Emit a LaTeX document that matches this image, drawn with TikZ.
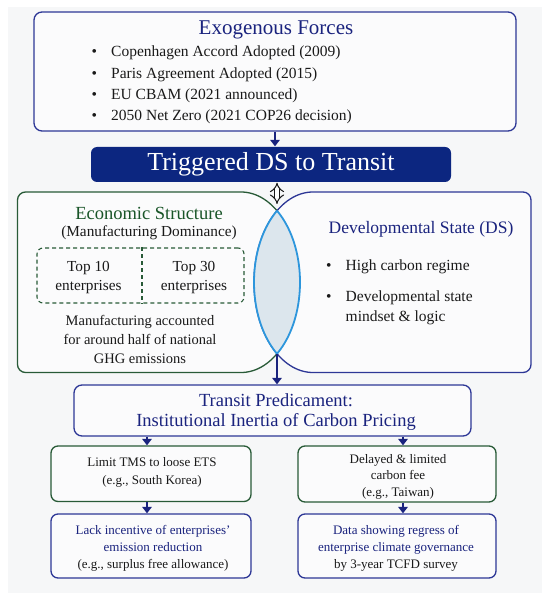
\documentclass[tikz,border=0pt]{standalone}
\usepackage{fontspec}
\setmainfont{Liberation Serif}
\usetikzlibrary{arrows.meta}
\definecolor{navy}{RGB}{26,35,126}
\definecolor{trigblue}{RGB}{12,38,128}
\definecolor{bordblue}{RGB}{45,55,150}
\definecolor{bordgreen}{RGB}{40,90,55}
\definecolor{titlegreen}{RGB}{25,85,40}
\definecolor{lensfill}{RGB}{220,230,237}
\definecolor{lensline}{RGB}{45,150,220}
\definecolor{bgc}{RGB}{246,247,248}
\definecolor{boxfill}{RGB}{251,251,252}
\definecolor{ink}{RGB}{25,25,25}
\begin{document}
\begin{tikzpicture}[x=1pt,y=1pt,
  box/.style={draw, rounded corners=8pt, line width=1.3pt, fill=boxfill, inner sep=0pt},
  bluebox/.style={box, draw=bordblue},
  greenbox/.style={box, draw=bordgreen, rounded corners=7pt},
  arr/.style={draw=navy, line width=2.3pt, -{Triangle[width=9.5pt,length=6.5pt]}},
  dbl/.style={draw=ink, line width=1pt, double=white, double distance=4pt, {Implies[length=4pt]}-{Implies[length=4pt]}},
  txt/.style={inner sep=0pt, align=center, text=ink}
]
\fill[white] (0,0) rectangle (550,-601);
\fill[bgc] (8,-7) rectangle (542,-593);
\useasboundingbox (0,0) rectangle (550,-601);

% Exogenous forces
\node[bluebox, minimum width=482pt, minimum height=119pt] (exog) at (275,-71.5) {};
\node[txt, text=navy, font=\fontsize{21}{24}\selectfont] (exogt) at (276,-30) {Exogenous Forces};
\node[txt, align=left, anchor=west, font=\fontsize{15.5}{21.33}\selectfont] (exogl) at (91.5,-85)
  {\makebox[19.5pt][l]{\textbullet}Copenhagen Accord Adopted (2009)\\
   \makebox[19.5pt][l]{\textbullet}Paris Agreement Adopted (2015)\\
   \makebox[19.5pt][l]{\textbullet}EU CBAM (2021 announced)\\
   \makebox[19.5pt][l]{\textbullet}2050 Net Zero (2021 COP26 decision)};

% Triggered
\node[box, draw=none, fill=trigblue, rounded corners=6pt, minimum width=360pt, minimum height=35pt,
      text=white, font=\fontsize{26}{30}\selectfont] (trig) at (271,-164.5) {Triggered DS to Transit};
\draw[arr] (exog.south) -- (trig.north -| exog.south);

% Left and right boxes
\draw[draw=bordgreen, line width=1.3pt, fill=boxfill]
  (241,-192) -- (25.5,-192) arc[start angle=90,end angle=180,radius=8pt]
  -- (17.5,-364.5) arc[start angle=180,end angle=270,radius=8pt]
  -- (241,-372.5) arc[start angle=-90,end angle=90,x radius=59pt,y radius=90.25pt] -- cycle;
\draw[draw=bordblue, line width=1.3pt, fill=boxfill]
  (313,-192) -- (523,-192) arc[start angle=90,end angle=0,radius=8pt]
  -- (531,-364.5) arc[start angle=0,end angle=-90,radius=8pt]
  -- (313,-372.5) arc[start angle=270,end angle=90,x radius=59pt,y radius=90.25pt] -- cycle;
\begin{scope}
  \clip (241,-282.25) ellipse[x radius=59pt, y radius=90.25pt];
  \fill[lensfill] (313,-282.25) ellipse[x radius=59pt, y radius=90.25pt];
  \draw[lensline, line width=1.8pt] (313,-282.25) ellipse[x radius=59pt, y radius=90.25pt];
\end{scope}
\begin{scope}
  \clip (313,-282.25) ellipse[x radius=59pt, y radius=90.25pt];
  \draw[lensline, line width=1.8pt] (241,-282.25) ellipse[x radius=59pt, y radius=90.25pt];
\end{scope}
\coordinate (dsjoin) at (277,-204);
\coordinate (lensbot) at (277,-353.75);
\draw[dbl] (trig.south -| dsjoin) -- (dsjoin);

% Economic structure
\node[txt, text=titlegreen, font=\fontsize{18.5}{20}\selectfont] (ect) at (149,-213) {Economic Structure};
\node[txt, font=\fontsize{15.3}{18}\selectfont] (ecs) at (149,-233) {(Manufacturing Dominance)};
\node[draw=bordgreen, line width=1.1pt, dash pattern=on 4pt off 3pt, rounded corners=6pt,
      minimum width=207pt, minimum height=55pt, inner sep=0pt] (dbox) at (140.5,-275.5) {};
\coordinate (divx) at (142,0);
\draw[draw=bordgreen, line width=1.1pt, dash pattern=on 4pt off 3pt] (dbox.north -| divx) -- (dbox.south -| divx);
\node[txt, font=\fontsize{15.3}{19}\selectfont] (top10) at (88.5,-277.5) {Top 10\\enterprises};
\node[txt, font=\fontsize{15.3}{19}\selectfont] (top30) at (194,-277.5) {Top 30\\enterprises};
\node[txt, font=\fontsize{14.5}{19}\selectfont] (manu) at (140,-339)
  {Manufacturing accounted\\for around half of national\\GHG emissions};

% Developmental state
\node[txt, text=navy, font=\fontsize{17.5}{20}\selectfont] (dst) at (421,-229) {Developmental State (DS)};
\node[txt, align=left, anchor=west, font=\fontsize{15.5}{20}\selectfont] (dsl) at (326,-292)
  {\makebox[19.5pt][l]{\textbullet}High carbon regime\\[11pt]
   \makebox[19.5pt][l]{\textbullet}Developmental state\\
   \hspace*{19.5pt}mindset \& logic};

% Transit predicament
\node[bluebox, minimum width=397pt, minimum height=51pt] (transit) at (272.5,-410.5) {};
\node[txt, text=navy, font=\fontsize{18.5}{20}\selectfont] (transitt) at (276,-412.5)
  {Transit Predicament:\\Institutional Inertia of Carbon Pricing};
\draw[arr] (lensbot) -- (lensbot |- transit.north);

% Middle boxes
\node[greenbox, minimum width=200pt, minimum height=55.5pt] (mid1) at (151,-473.75) {};
\node[txt, font=\fontsize{13}{18}\selectfont] (mid1t) at (152,-472) {Limit TMS to loose ETS\\(e.g., South Korea)};
\node[greenbox, minimum width=198pt, minimum height=56pt] (mid2) at (397,-474) {};
\node[txt, font=\fontsize{13}{16.5}\selectfont] (mid2t) at (398,-476.5) {Delayed \& limited\\carbon fee\\(e.g., Taiwan)};

% Bottom boxes
\node[bluebox, rounded corners=7pt, minimum width=200pt, minimum height=64pt] (bot1) at (151,-546) {};
\node[txt, font=\fontsize{13}{17}\selectfont] (bot1t) at (153,-548)
  {\textcolor{navy}{Lack incentive of enterprises’}\\\textcolor{navy}{emission reduction}\\(e.g., surplus free allowance)};
\node[bluebox, rounded corners=7pt, minimum width=198pt, minimum height=64pt] (bot2) at (397,-546) {};
\node[txt, font=\fontsize{13}{17}\selectfont] (bot2t) at (396,-548)
  {\textcolor{navy}{Data showing regress of}\\\textcolor{navy}{enterprise climate governance}\\by 3-year TCFD survey};

\coordinate (ax1) at (147,0);
\coordinate (ax2) at (403,0);
\draw[arr] (transit.south -| ax1) -- (mid1.north -| ax1);
\draw[arr] (transit.south -| ax2) -- (mid2.north -| ax2);
\draw[arr] (mid1.south -| ax1) -- (bot1.north -| ax1);
\draw[arr] (mid2.south -| ax2) -- (bot2.north -| ax2);
\end{tikzpicture}
\end{document}
